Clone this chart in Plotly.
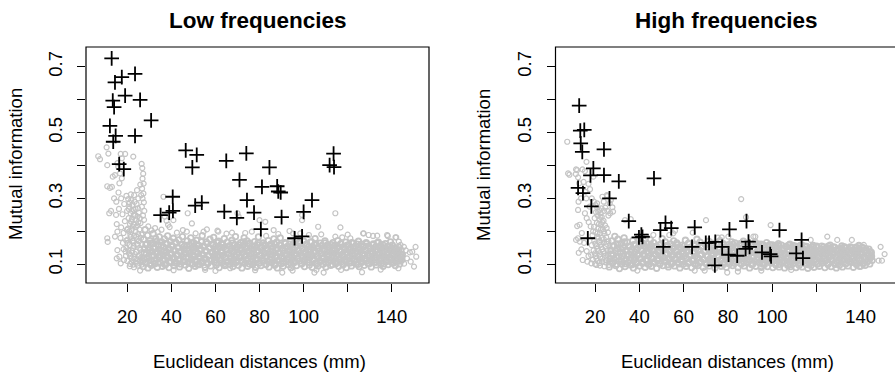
import plotly.graph_objects as go

# ---------------------------------------------------------------------------
# Data: Euclidean distance (mm) vs mutual information, two frequency bands
# ---------------------------------------------------------------------------

# Highlighted electrode pairs (black crosses)
low_cross = [(12.9, .725), (17.5, .668), (14.4, .652), (23.5, .678), (19.0, .612),
             (25.8, .599), (13.4, .597), (14.0, .577), (30.8, .537), (12.1, .520),
             (14.7, .490), (13.6, .472), (23.5, .490), (16.3, .404), (18.4, .389),
             (35.1, .249), (39.0, .257), (40.7, .262), (40.6, .305), (46.5, .446),
             (51.5, .432), (49.5, .394), (50.8, .278), (53.8, .287), (64.9, .414),
             (64.0, .260), (74.0, .437), (70.9, .356), (74.3, .295), (69.7, .241),
             (77.5, .257), (84.5, .394), (81.1, .335), (80.6, .207), (88.0, .337),
             (88.5, .321), (89.6, .318), (90.0, .243), (95.9, .179), (99.3, .185),
             (100.0, .259), (103.8, .295), (111.8, .401), (113.6, .436), (113.8, .395)]

high_cross = [(12.8, .582), (13.3, .506), (15.1, .508), (13.5, .467), (14.2, .441),
              (24.0, .449), (19.2, .391), (17.9, .370), (24.0, .371), (30.7, .352),
              (46.6, .361), (12.3, .332), (14.5, .316), (26.5, .300), (18.3, .276),
              (16.7, .179), (35.2, .231), (39.8, .182), (40.9, .190), (41.4, .183),
              (49.5, .204), (51.8, .226), (54.4, .210), (50.8, .153), (65.0, .212),
              (63.8, .153), (70.0, .165), (71.5, .165), (74.3, .168), (77.4, .153),
              (74.1, .097), (80.7, .206), (80.3, .129), (84.2, .126), (88.4, .231),
              (89.3, .169), (89.8, .153), (88.0, .147), (95.4, .136), (99.1, .131),
              (99.5, .124), (103.3, .204), (110.9, .133), (113.3, .174), (113.9, .119)]

# All other pairs (grey circles): scattered points, flat x/y sequence
low_sparse_xy = [
    6.8, .428, 7.6, .419, 10.6, .455, 11.4, .436, 10.9, .401, 12.1, .332, 10.9, .337,
    11.8, .255, 10.9, .179, 11.1, .168, 14.9, .250, 15.2, .222, 14.4, .184, 15.5, .199,
    15.5, .143, 15.2, .118, 16.4, .123, 18.5, .113, 17.0, .103, 18.3, .146, 19.2, .139,
    13.4, .366, 14.4, .371, 17.0, .435, 17.5, .422, 19.0, .435, 15.5, .407, 15.9, .396,
    16.7, .376, 17.5, .361, 16.4, .346, 22.7, .427, 13.0, .335, 12.6, .262, 14.0, .300,
    15.0, .290, 16.0, .318, 17.2, .300, 18.6, .283, 16.2, .268, 17.8, .252, 18.9, .231,
    17.2, .212, 18.3, .195, 16.9, .180, 18.0, .165, 19.5, .172, 19.8, .205, 19.9, .262,
    20.4, .298, 21.0, .287, 21.8, .295, 20.9, .275, 22.3, .280, 23.3, .290, 24.2, .283,
    22.9, .265, 24.8, .270, 21.5, .255, 23.6, .250, 25.2, .257, 20.6, .240, 22.1, .238,
    24.0, .236, 25.7, .240, 21.2, .222, 23.0, .220, 24.6, .218, 26.0, .225, 20.3, .208,
    22.0, .205, 23.8, .200, 25.5, .206, 21.4, .190, 23.1, .186, 24.9, .192, 20.1, .175,
    22.5, .172, 24.3, .176, 26.2, .180, 21.0, .158, 22.9, .156, 24.7, .160, 26.5, .162,
    20.5, .142, 22.2, .140, 24.0, .138, 25.9, .144, 21.3, .125, 23.2, .122, 25.1, .126,
    20.0, .110, 22.0, .107, 23.9, .105, 25.7, .111, 21.1, .094, 23.0, .091, 24.8, .096,
    26.6, .099, 25.8, .081, 26.5, .405, 26.8, .392, 27.2, .375, 26.9, .360, 27.4, .345,
    26.7, .330, 27.3, .315, 26.9, .300, 27.5, .288, 26.6, .275, 27.7, .262, 27.1, .248,
    27.6, .235, 26.3, .310, 25.9, .342, 24.4, .325, 23.1, .310, 21.6, .312, 19.6, .308,
    25.0, .300, 32.6, .210, 36.4, .305, 37.0, .245, 37.8, .232, 38.5, .220, 39.2, .213,
    40.9, .234, 45.2, .204, 47.0, .199, 47.4, .255, 49.3, .224, 56.1, .206, 60.9, .202,
    70.0, .255, 70.5, .245, 80.0, .234, 82.6, .229, 83.0, .186, 86.4, .204, 93.6, .201,
    95.2, .194, 99.3, .234, 99.3, .250, 116.7, .212, 114.4, .255, 127.0, .194, 138.2, .186,
    141.7, .182, 54.6, .199, 61.3, .199, 67.5, .196, 76.5, .199, 98.5, .194, 102.4, .189,
    106.6, .214, 114.4, .184, 117.5, .182, 121.2, .179, 127.3, .194, 129.5, .189,
    133.4, .187, 137.9, .189, 142.0, .182, 143.2, .169, 144.0, .159, 145.5, .153,
    55.3, .083, 66.7, .088, 90.3, .075, 104.9, .075, 109.1, .075, 126.5, .076, 105.8, .083,
    148.2, .136, 149.3, .138, 150.8, .153, 151.1, .123, 148.6, .108, 150.1, .093,
    146.4, .142, 146.9, .118, 145.6, .102, 29.5, .215, 31.0, .203, 33.8, .198, 35.5, .205,
    42.5, .196, 51.0, .194, 65.0, .193, 73.5, .195, 88.5, .192, 108.0, .191, 120.0, .190,
    131.5, .186, 41.0, .082, 60.0, .080, 78.0, .082, 95.0, .081, 117.0, .083, 135.0, .084,
    143.0, .088, 19.6, .150, 20.8, .133, 21.9, .118, 22.6, .149, 23.5, .131, 24.5, .115,
    25.4, .150, 26.3, .133, 20.2, .165, 21.6, .183, 22.8, .166, 24.1, .184, 25.3, .170,
    26.4, .190, 20.9, .200, 22.4, .215, 23.9, .213, 25.0, .228, 21.7, .230, 22.9, .248,
    24.6, .245, 20.7, .268, 22.1, .262, 23.7, .268, 21.3, .101, 22.7, .099, 24.4, .102,
    26.0, .118, 19.4, .126,
]

low_band_xy = [
    27.2, .093, 27.5, .118, 27.9, .147, 27.4, .176, 28.1, .205, 28.3, .104, 28.6, .131, 28.9, .162,
    29.2, .188, 29.4, .089, 29.8, .124, 30.1, .151, 30.3, .172, 30.6, .112, 30.9, .097, 31.2, .139,
    31.5, .164, 31.7, .193, 32.0, .126, 32.4, .102, 32.6, .148, 32.9, .178, 33.3, .115, 33.6, .091,
    33.8, .136, 34.1, .159, 34.5, .183, 34.7, .121, 35.0, .105, 35.3, .143, 35.6, .168, 35.9, .094,
    36.2, .129, 36.5, .152, 36.8, .177, 37.1, .113, 37.4, .099, 37.7, .138, 38.0, .161, 38.3, .186,
    38.6, .122, 38.9, .090, 39.3, .145, 39.6, .169, 39.9, .108, 40.2, .131, 40.5, .156, 40.9, .179,
    41.2, .096, 41.5, .118, 41.8, .141, 42.1, .165, 42.4, .103, 42.8, .127, 43.1, .150, 43.4, .174,
    43.7, .092, 44.0, .115, 44.4, .137, 44.7, .160, 45.0, .184, 45.3, .109, 45.6, .132, 45.9, .155,
    46.3, .098, 46.6, .121, 46.9, .146, 47.2, .171, 47.6, .106, 47.9, .088, 48.2, .134, 48.5, .158,
    48.8, .180, 49.2, .116, 49.5, .101, 49.8, .142, 50.1, .166, 50.5, .124, 50.8, .094, 51.1, .149,
    51.4, .173, 51.7, .110, 52.1, .133, 52.4, .157, 52.7, .099, 53.0, .120, 53.4, .145, 53.7, .168,
    54.0, .187, 54.3, .107, 54.6, .128, 55.0, .153, 55.3, .091, 55.6, .117, 55.9, .140, 56.3, .163,
    56.6, .103, 56.9, .126, 57.2, .150, 57.5, .176, 57.9, .095, 58.2, .113, 58.5, .137, 58.8, .161,
    59.2, .182, 59.5, .108, 59.8, .130, 60.1, .155, 60.4, .098, 60.8, .122, 61.1, .146, 61.4, .170,
    61.7, .090, 62.1, .114, 62.4, .139, 62.7, .162, 63.0, .105, 63.3, .127, 63.7, .151, 64.0, .178,
    64.3, .096, 64.6, .119, 65.0, .143, 65.3, .167, 65.6, .109, 65.9, .132, 66.2, .156, 66.6, .100,
    66.9, .124, 67.2, .148, 67.5, .173, 67.9, .093, 68.2, .115, 68.5, .138, 68.8, .160, 69.1, .184,
    69.5, .106, 69.8, .129, 70.1, .153, 70.4, .097, 70.8, .120, 71.1, .144, 71.4, .166, 71.7, .111,
    72.0, .089, 72.4, .135, 72.7, .158, 73.0, .180, 73.3, .103, 73.7, .126, 74.0, .149, 74.3, .171,
    74.6, .094, 74.9, .117, 75.3, .141, 75.6, .164, 75.9, .108, 76.2, .131, 76.6, .155, 76.9, .099,
    77.2, .122, 77.5, .146, 77.8, .169, 78.2, .091, 78.5, .113, 78.8, .136, 79.1, .159, 79.5, .183,
    79.8, .104, 80.1, .127, 80.4, .151, 80.7, .096, 81.1, .119, 81.4, .142, 81.7, .165, 82.0, .110,
    82.4, .133, 82.7, .157, 83.0, .100, 83.3, .123, 83.6, .147, 84.0, .172, 84.3, .092, 84.6, .115,
    84.9, .139, 85.2, .162, 85.6, .106, 85.9, .128, 86.2, .152, 86.5, .177, 86.9, .097, 87.2, .120,
    87.5, .144, 87.8, .167, 88.1, .089, 88.5, .111, 88.8, .134, 89.1, .158, 89.4, .180, 89.8, .102,
    90.1, .125, 90.4, .149, 90.7, .094, 91.0, .117, 91.4, .140, 91.7, .163, 92.0, .108, 92.3, .131,
    92.7, .154, 93.0, .099, 93.3, .121, 93.6, .145, 93.9, .169, 94.3, .090, 94.6, .114, 94.9, .137,
    95.2, .161, 95.6, .105, 95.9, .127, 96.2, .151, 96.5, .174, 96.8, .096, 97.2, .119, 97.5, .142,
    97.8, .165, 98.1, .110, 98.5, .133, 98.8, .156, 99.1, .101, 99.4, .123, 99.7, .147, 100.1, .170,
    100.4, .093, 100.7, .116, 101.0, .139, 101.4, .162, 101.7, .107, 102.0, .129, 102.3, .153, 102.6, .098,
    103.0, .121, 103.3, .144, 103.6, .168, 103.9, .091, 104.3, .112, 104.6, .135, 104.9, .159, 105.2, .178,
    105.5, .104, 105.9, .126, 106.2, .150, 106.5, .095, 106.8, .118, 107.2, .141, 107.5, .164, 107.8, .109,
    108.1, .132, 108.4, .155, 108.8, .100, 109.1, .122, 109.4, .146, 109.7, .171, 110.1, .092, 110.4, .115,
    110.7, .138, 111.0, .160, 111.3, .106, 111.7, .128, 112.0, .152, 112.3, .097, 112.6, .120, 113.0, .143,
    113.3, .166, 113.6, .111, 113.9, .134, 114.2, .157, 114.6, .102, 114.9, .124, 115.2, .148, 115.5, .172,
    115.9, .094, 116.2, .116, 116.5, .139, 116.8, .162, 117.1, .108, 117.5, .130, 117.8, .153, 118.1, .099,
    118.4, .121, 118.8, .145, 119.1, .167, 119.4, .090, 119.7, .113, 120.0, .136, 120.4, .159, 120.7, .104,
    121.0, .126, 121.3, .150, 121.7, .095, 122.0, .118, 122.3, .141, 122.6, .164, 122.9, .110, 123.3, .132,
    123.6, .155, 123.9, .101, 124.2, .123, 124.6, .147, 124.9, .170, 125.2, .093, 125.5, .115, 125.8, .138,
    126.2, .161, 126.5, .106, 126.8, .128, 127.1, .152, 127.5, .097, 127.8, .119, 128.1, .143, 128.4, .166,
    128.7, .111, 129.1, .133, 129.4, .156, 129.7, .102, 130.0, .124, 130.3, .148, 130.7, .092, 131.0, .116,
    131.3, .139, 131.6, .162, 132.0, .107, 132.3, .129, 132.6, .153, 132.9, .098, 133.2, .120, 133.6, .144,
    133.9, .167, 134.2, .112, 134.5, .134, 134.9, .157, 135.2, .103, 135.5, .125, 135.8, .149, 136.1, .094,
    136.5, .117, 136.8, .140, 137.1, .163, 137.4, .108, 137.8, .130, 138.1, .154, 138.4, .099, 138.7, .121,
    139.0, .145, 139.4, .168, 139.7, .113, 140.0, .135, 140.3, .158, 140.7, .104, 141.0, .126, 141.3, .150,
    141.6, .096, 141.9, .118, 142.3, .141, 142.6, .110, 142.9, .131, 143.2, .152, 143.6, .101, 143.9, .122,
    144.2, .143, 144.5, .113, 144.8, .130,
    # core of the band, second pass
    27.0, .110, 27.7, .135, 28.4, .160, 28.8, .118, 29.5, .143, 30.2, .102, 30.5, .164, 31.1, .127,
    31.8, .150, 32.2, .111, 32.8, .136, 33.4, .170, 33.9, .104, 34.3, .146, 34.9, .128, 35.4, .157,
    36.0, .113, 36.4, .139, 36.9, .100, 37.5, .163, 37.9, .125, 38.5, .149, 39.1, .108, 39.4, .132,
    40.0, .158, 40.4, .119, 41.0, .143, 41.4, .105, 41.9, .167, 42.3, .129, 42.9, .152, 43.3, .114,
    43.9, .138, 44.2, .101, 44.8, .161, 45.2, .123, 45.8, .146, 46.1, .109, 46.7, .134, 47.1, .157,
    47.7, .118, 48.0, .142, 48.6, .103, 49.0, .165, 49.6, .127, 50.0, .151, 50.6, .112, 51.0, .137,
    51.5, .160, 51.9, .099, 52.5, .122, 52.9, .145, 53.5, .107, 53.8, .131, 54.4, .155, 54.9, .116,
    55.4, .141, 55.8, .168, 56.4, .103, 56.8, .126, 57.4, .149, 57.8, .111, 58.3, .135, 58.9, .158,
    59.3, .120, 59.9, .143, 60.3, .104, 60.9, .166, 61.3, .128, 61.8, .152, 62.3, .113, 62.8, .137,
    63.4, .160, 63.8, .100, 64.4, .122, 64.8, .146, 65.4, .108, 65.8, .131, 66.4, .155, 66.8, .117,
    67.4, .141, 67.7, .164, 68.3, .103, 68.7, .126, 69.3, .150, 69.7, .112, 70.3, .135, 70.6, .159,
    71.2, .121, 71.6, .145, 72.2, .106, 72.6, .168, 73.1, .130, 73.5, .153, 74.1, .114, 74.5, .139,
    75.1, .162, 75.5, .101, 76.0, .124, 76.4, .147, 77.0, .109, 77.4, .133, 78.0, .156, 78.4, .118,
    78.9, .142, 79.3, .165, 79.9, .104, 80.3, .128, 80.9, .151, 81.3, .113, 81.8, .137, 82.2, .160,
    82.8, .099, 83.2, .122, 83.8, .145, 84.2, .107, 84.7, .131, 85.1, .155, 85.7, .116, 86.1, .140,
    86.7, .163, 87.1, .102, 87.6, .126, 88.0, .149, 88.6, .111, 89.0, .135, 89.6, .158, 90.0, .119,
    90.5, .143, 90.9, .105, 91.5, .166, 91.9, .129, 92.5, .152, 92.9, .114, 93.4, .138, 93.8, .161,
    94.4, .100, 94.8, .123, 95.4, .147, 95.8, .109, 96.3, .132, 96.7, .156, 97.3, .117, 97.7, .141,
    98.3, .164, 98.7, .103, 99.2, .127, 99.6, .150, 100.2, .112, 100.6, .136, 101.2, .159, 101.6, .120,
    102.1, .144, 102.5, .106, 103.1, .167, 103.5, .130, 104.1, .153, 104.4, .115, 105.0, .139, 105.4, .162,
    106.0, .101, 106.4, .124, 106.9, .148, 107.3, .110, 107.9, .133, 108.3, .157, 108.9, .118, 109.3, .142,
    109.8, .165, 110.2, .104, 110.8, .128, 111.2, .151, 111.8, .113, 112.2, .137, 112.7, .160, 113.1, .099,
    113.7, .121, 114.1, .145, 114.7, .107, 115.1, .131, 115.6, .154, 116.0, .116, 116.6, .140, 117.0, .163,
    117.6, .102, 118.0, .126, 118.5, .149, 118.9, .111, 119.5, .135, 119.9, .158, 120.5, .119, 120.9, .143,
    121.4, .105, 121.8, .166, 122.4, .129, 122.8, .152, 123.4, .114, 123.8, .138, 124.3, .161, 124.7, .100,
    125.3, .123, 125.7, .147, 126.3, .109, 126.7, .132, 127.2, .156, 127.6, .117, 128.2, .141, 128.6, .163,
    129.2, .103, 129.6, .127, 130.1, .150, 130.5, .112, 131.1, .136, 131.5, .159, 132.1, .120, 132.5, .144,
    133.0, .106, 133.4, .165, 134.0, .130, 134.4, .153, 135.0, .115, 135.4, .139, 135.9, .160, 136.3, .101,
    136.9, .124, 137.3, .148, 137.9, .110, 138.3, .133, 138.8, .155, 139.2, .118, 139.8, .142, 140.2, .104,
    140.8, .128, 141.2, .148, 141.7, .113, 142.1, .136, 142.7, .120, 143.1, .142, 143.7, .110, 144.1, .130,
    144.6, .121,
]

high_sparse_xy = [
    7.4, .472, 7.8, .376, 8.4, .372, 11.4, .388, 11.9, .386, 11.3, .374, 12.3, .364,
    12.8, .346, 16.1, .411, 14.3, .388, 15.4, .383, 12.3, .265, 11.9, .216, 11.4, .174,
    12.3, .179, 13.1, .169, 14.4, .113, 16.5, .108, 18.3, .103, 20.6, .098, 19.2, .366,
    17.0, .344, 17.7, .328, 15.4, .255, 16.2, .240, 17.1, .228, 18.0, .215, 19.1, .200,
    23.3, .305, 25.4, .307, 26.6, .285, 27.8, .273, 28.1, .260, 25.3, .310, 27.1, .295,
    26.8, .255, 33.5, .234, 36.1, .237, 39.6, .184, 43.3, .184, 53.5, .189, 55.3, .194,
    64.1, .196, 70.1, .234, 86.0, .298, 99.3, .219, 124.9, .184, 149.0, .153, 150.8, .131,
    148.1, .111, 149.6, .111, 144.7, .128, 141.4, .159, 142.5, .149, 136.0, .174,
    129.4, .174, 117.4, .174, 92.4, .184, 85.3, .164, 75.5, .181, 39.1, .081, 65.0, .081,
    69.5, .081, 79.7, .075, 84.5, .078, 95.1, .081, 108.6, .083, 140.2, .093, 56.1, .202,
    88.2, .243, 77.2, .182, 80.2, .184, 91.5, .184, 46.3, .189,
    19.5, .290, 20.2, .280, 21.0, .272, 21.8, .265, 20.4, .258, 22.5, .255, 21.2, .248,
    23.0, .244, 19.8, .240, 22.0, .236, 23.8, .232, 20.8, .226, 22.8, .222, 24.5, .218,
    19.5, .214, 21.5, .210, 23.5, .206, 25.2, .210, 20.2, .198, 22.2, .195, 24.2, .193,
    25.8, .197, 18.8, .188, 21.0, .184, 23.0, .180, 25.0, .182, 19.6, .172, 21.8, .168,
    23.9, .166, 26.0, .170, 18.5, .158, 20.7, .155, 22.7, .152, 24.8, .154, 19.3, .142,
    21.5, .140, 23.6, .138, 25.6, .143, 18.2, .128, 20.2, .125, 22.3, .122, 24.4, .126,
    19.0, .114, 21.2, .110, 23.2, .108, 25.3, .112, 20.0, .101, 22.2, .096, 24.2, .094,
    26.2, .098, 23.9, .290, 24.6, .272, 25.5, .262, 26.0, .248, 24.0, .262, 18.5, .300,
    17.5, .275, 16.0, .300, 15.6, .320, 14.8, .350, 13.6, .300, 12.5, .290, 13.0, .220,
    14.0, .195, 15.0, .165, 13.8, .145, 12.6, .135, 16.2, .140, 17.0, .125,
    19.9, .133, 21.0, .147, 22.1, .130, 23.3, .146, 24.5, .134, 25.7, .128, 20.6, .117,
    21.9, .104, 23.3, .118, 24.7, .106, 20.1, .163, 21.4, .178, 22.6, .160, 23.9, .176,
    25.2, .162, 21.1, .194, 22.6, .205, 24.0, .200, 21.7, .222, 23.2, .228, 22.4, .244,
    21.4, .260, 22.9, .270, 20.9, .285,
]

high_band_xy = [
    26.4, .092, 26.8, .117, 27.1, .142, 27.5, .171, 27.9, .104, 28.2, .129, 28.6, .156, 28.9, .185,
    29.3, .096, 29.6, .121, 30.0, .148, 30.3, .176, 30.7, .110, 31.0, .087, 31.4, .135, 31.7, .162,
    32.1, .101, 32.4, .124, 32.8, .151, 33.1, .180, 33.5, .093, 33.8, .115, 34.2, .140, 34.5, .167,
    34.9, .106, 35.2, .130, 35.6, .155, 35.9, .098, 36.3, .120, 36.6, .145, 37.0, .172, 37.3, .089,
    37.7, .112, 38.0, .137, 38.4, .160, 38.7, .103, 39.1, .127, 39.4, .150, 39.8, .177, 40.1, .095,
    40.5, .118, 40.8, .143, 41.2, .165, 41.5, .108, 41.9, .132, 42.2, .157, 42.6, .091, 42.9, .114,
    43.3, .139, 43.6, .163, 44.0, .100, 44.3, .125, 44.7, .148, 45.0, .174, 45.4, .094, 45.7, .117,
    46.1, .141, 46.4, .166, 46.8, .107, 47.1, .131, 47.5, .154, 47.8, .088, 48.2, .111, 48.5, .136,
    48.9, .159, 49.2, .102, 49.6, .126, 49.9, .149, 50.3, .178, 50.6, .096, 51.0, .119, 51.3, .144,
    51.7, .168, 52.0, .109, 52.4, .133, 52.7, .156, 53.1, .092, 53.4, .115, 53.8, .138, 54.1, .162,
    54.5, .101, 54.8, .123, 55.2, .147, 55.5, .171, 55.9, .095, 56.2, .118, 56.6, .142, 56.9, .165,
    57.3, .106, 57.6, .130, 58.0, .153, 58.3, .089, 58.7, .112, 59.0, .135, 59.4, .158, 59.7, .100,
    60.1, .124, 60.4, .147, 60.8, .173, 61.1, .094, 61.5, .117, 61.8, .140, 62.2, .164, 62.5, .107,
    62.9, .129, 63.2, .152, 63.6, .090, 63.9, .113, 64.3, .137, 64.6, .160, 65.0, .101, 65.3, .125,
    65.7, .148, 66.0, .176, 66.4, .096, 66.7, .119, 67.1, .143, 67.4, .167, 67.8, .108, 68.1, .131,
    68.5, .155, 68.8, .091, 69.2, .114, 69.5, .138, 69.9, .161, 70.2, .102, 70.6, .126, 70.9, .149,
    71.3, .170, 71.6, .095, 72.0, .118, 72.3, .141, 72.7, .164, 73.0, .109, 73.4, .132, 73.7, .156,
    74.1, .089, 74.4, .112, 74.8, .136, 75.1, .159, 75.5, .100, 75.8, .123, 76.2, .146, 76.5, .172,
    76.9, .094, 77.2, .117, 77.6, .140, 77.9, .163, 78.3, .106, 78.6, .130, 79.0, .153, 79.3, .091,
    79.7, .113, 80.0, .137, 80.4, .160, 80.7, .102, 81.1, .125, 81.4, .148, 81.8, .168, 82.1, .096,
    82.5, .119, 82.8, .142, 83.2, .165, 83.5, .108, 83.9, .131, 84.2, .154, 84.6, .090, 84.9, .114,
    85.3, .138, 85.6, .161, 86.0, .101, 86.3, .124, 86.7, .147, 87.0, .170, 87.4, .095, 87.7, .118,
    88.1, .141, 88.4, .163, 88.8, .107, 89.1, .130, 89.5, .152, 89.8, .089, 90.2, .112, 90.5, .135,
    90.9, .158, 91.2, .100, 91.6, .122, 91.9, .145, 92.3, .167, 92.6, .094, 93.0, .116, 93.3, .139,
    93.7, .161, 94.0, .106, 94.4, .128, 94.7, .151, 95.1, .091, 95.4, .113, 95.8, .136, 96.1, .158,
    96.5, .099, 96.8, .121, 97.2, .144, 97.5, .166, 97.9, .093, 98.2, .115, 98.6, .138, 98.9, .160,
    99.3, .105, 99.6, .127, 100.0, .149, 100.3, .090, 100.7, .111, 101.0, .133, 101.4, .156, 101.7, .098,
    102.1, .120, 102.4, .142, 102.8, .163, 103.1, .092, 103.5, .114, 103.8, .136, 104.2, .158, 104.5, .104,
    104.9, .125, 105.2, .147, 105.6, .089, 105.9, .110, 106.3, .131, 106.6, .153, 107.0, .097, 107.3, .119,
    107.7, .140, 108.0, .161, 108.4, .093, 108.7, .114, 109.1, .135, 109.4, .157, 109.8, .103, 110.1, .124,
    110.5, .145, 110.8, .090, 111.2, .109, 111.5, .130, 111.9, .151, 112.2, .097, 112.6, .118, 112.9, .139,
    113.3, .159, 113.6, .092, 114.0, .113, 114.3, .134, 114.7, .155, 115.0, .102, 115.4, .123, 115.7, .143,
    116.1, .088, 116.4, .108, 116.8, .128, 117.1, .149, 117.5, .096, 117.8, .117, 118.2, .137, 118.5, .157,
    118.9, .091, 119.2, .112, 119.6, .132, 119.9, .152, 120.3, .101, 120.6, .121, 121.0, .141, 121.3, .094,
    121.7, .115, 122.0, .135, 122.4, .155, 122.7, .105, 123.1, .125, 123.4, .145, 123.8, .090, 124.1, .110,
    124.5, .130, 124.8, .150, 125.2, .099, 125.5, .119, 125.9, .139, 126.2, .158, 126.6, .093, 126.9, .113,
    127.3, .133, 127.6, .152, 128.0, .103, 128.3, .123, 128.7, .143, 129.0, .089, 129.4, .108, 129.7, .128,
    130.1, .147, 130.4, .097, 130.8, .117, 131.1, .137, 131.5, .156, 131.8, .092, 132.2, .112, 132.5, .131,
    132.9, .151, 133.2, .102, 133.6, .121, 133.9, .141, 134.3, .095, 134.6, .115, 135.0, .134, 135.3, .153,
    135.7, .106, 136.0, .125, 136.4, .144, 136.7, .091, 137.1, .110, 137.4, .130, 137.8, .149, 138.1, .099,
    138.5, .119, 138.8, .138, 139.2, .157, 139.5, .094, 139.9, .114, 140.2, .133, 140.6, .152, 140.9, .104,
    141.3, .123, 141.6, .142, 142.0, .097, 142.3, .116, 142.7, .135, 143.0, .108, 143.4, .127, 143.7, .146,
    144.1, .101, 144.4, .120, 144.8, .136, 145.2, .112,
    # core of the band, second pass
    26.6, .108, 27.3, .131, 28.0, .155, 28.4, .116, 29.1, .140, 29.8, .100, 30.1, .162, 30.8, .123,
    31.5, .147, 31.9, .109, 32.6, .133, 33.3, .168, 33.6, .102, 34.0, .144, 34.7, .126, 35.4, .153,
    35.7, .112, 36.1, .137, 36.8, .099, 37.5, .160, 37.9, .121, 38.6, .146, 39.0, .106, 39.3, .130,
    40.0, .156, 40.4, .116, 41.1, .141, 41.4, .103, 41.8, .163, 42.4, .126, 43.1, .150, 43.5, .111,
    44.2, .135, 44.5, .100, 45.2, .158, 45.6, .120, 46.3, .144, 46.6, .107, 47.3, .132, 47.7, .154,
    48.4, .117, 48.7, .139, 49.4, .102, 49.8, .161, 50.5, .124, 50.8, .148, 51.5, .110, 51.9, .134,
    52.6, .157, 52.9, .099, 53.6, .119, 54.0, .143, 54.7, .105, 55.0, .128, 55.7, .152, 56.1, .114,
    56.8, .138, 57.1, .160, 57.8, .101, 58.2, .123, 58.9, .147, 59.2, .109, 59.9, .133, 60.3, .155,
    61.0, .118, 61.3, .141, 62.0, .103, 62.4, .162, 63.1, .126, 63.4, .149, 64.1, .111, 64.5, .135,
    65.2, .157, 65.5, .099, 66.2, .120, 66.6, .144, 67.3, .106, 67.6, .129, 68.3, .153, 68.7, .115,
    69.4, .139, 69.7, .160, 70.4, .102, 70.8, .124, 71.5, .148, 71.8, .110, 72.5, .133, 72.9, .156,
    73.6, .119, 73.9, .142, 74.6, .104, 75.0, .163, 75.7, .127, 76.0, .150, 76.7, .112, 77.1, .136,
    77.8, .158, 78.1, .100, 78.8, .121, 79.2, .145, 79.9, .107, 80.2, .130, 80.9, .154, 81.3, .116,
    82.0, .140, 82.3, .161, 83.0, .103, 83.4, .125, 84.1, .149, 84.4, .111, 85.1, .134, 85.5, .157,
    86.2, .120, 86.5, .143, 87.2, .105, 87.6, .160, 88.3, .128, 88.6, .151, 89.3, .113, 89.7, .137,
    90.4, .158, 90.7, .099, 91.4, .122, 91.8, .146, 92.5, .108, 92.8, .131, 93.5, .155, 93.9, .117,
    94.6, .140, 94.9, .161, 95.6, .102, 96.0, .126, 96.7, .149, 97.0, .112, 97.7, .135, 98.1, .156,
    98.8, .119, 99.1, .143, 99.8, .104, 100.2, .159, 100.9, .128, 101.2, .151, 101.9, .114, 102.3, .137,
    103.0, .157, 103.3, .100, 104.0, .122, 104.4, .146, 105.1, .108, 105.4, .131, 106.1, .154, 106.5, .117,
    107.2, .140, 107.5, .158, 108.2, .102, 108.6, .125, 109.3, .148, 109.6, .111, 110.3, .134, 110.7, .155,
    111.4, .119, 111.7, .142, 112.4, .104, 112.8, .157, 113.5, .127, 113.8, .149, 114.5, .113, 114.9, .136,
    115.6, .154, 115.9, .099, 116.6, .121, 117.0, .144, 117.7, .107, 118.0, .130, 118.7, .152, 119.1, .116,
    119.8, .139, 120.1, .155, 120.8, .102, 121.2, .124, 121.9, .147, 122.2, .110, 122.9, .133, 123.3, .153,
    124.0, .118, 124.3, .141, 125.0, .104, 125.4, .155, 126.1, .126, 126.4, .148, 127.1, .112, 127.5, .135,
    128.2, .152, 128.5, .100, 129.2, .121, 129.6, .144, 130.3, .108, 130.6, .130, 131.3, .150, 131.7, .116,
    132.4, .139, 132.7, .153, 133.4, .103, 133.8, .124, 134.5, .146, 134.8, .110, 135.5, .133, 135.9, .151,
    136.6, .118, 136.9, .140, 137.6, .105, 138.0, .152, 138.7, .127, 139.0, .147, 139.7, .113, 140.1, .135,
    140.8, .150, 141.1, .102, 141.8, .122, 142.2, .143, 142.9, .109, 143.2, .130, 143.9, .117, 144.3, .138,
    144.9, .124,
]

x_ticks = [20, 40, 60, 80, 100, 120, 140]
x_tick_text = ["20", "40", "60", "80", "100", "", "140"]
y_ticks = [0.1, 0.2, 0.3, 0.4, 0.5, 0.6, 0.7]
y_tick_text = ["0.1", "", "0.3", "", "0.5", "", "0.7"]

titles = ["Low frequencies", "High frequencies"]
x_title = "Euclidean distances (mm)"
y_title = "Mutual information"

# ---------------------------------------------------------------------------
# Layout helpers (pixel geometry of the 895 x 373 canvas)
# ---------------------------------------------------------------------------
W, H = 895, 373
FONT = "Liberation Sans, Arial, Helvetica, sans-serif"
GREY = "#c4c4c4"


def pairs(flat):
    return list(flat[0::2]), list(flat[1::2])


def unzip(pts):
    return [p[0] for p in pts], [p[1] for p in pts]


def fx(p):
    return p / W


def fy(p):
    return 1 - p / H


panels = [
    dict(suffix="", sparse=low_sparse_xy, band=low_band_xy, cross=low_cross,
         dom=[fx(86), fx(429)], xr=[1.25, 156.9], centre=258),
    dict(suffix="2", sparse=high_sparse_xy, band=high_band_xy, cross=high_cross,
         dom=[fx(555.5), 1.0], xr=[2.1, 155.5], centre=726),
]
y_dom = [fy(283), fy(47)]
y_range = [0.0432, 0.7597]

fig = go.Figure()
layout = dict(
    width=W, height=H, margin=dict(l=0, r=0, t=0, b=0),
    paper_bgcolor="white", plot_bgcolor="white", showlegend=False,
    font=dict(family=FONT, color="black", size=18.5),
    shapes=[], annotations=[],
)

for i, pn in enumerate(panels):
    s = pn["suffix"]
    xa, ya = "x" + s, "y" + s
    bx, by = pairs(pn["band"])
    fig.add_trace(go.Scatter(
        x=bx, y=by, mode="markers", xaxis=xa, yaxis=ya, hoverinfo="skip",
        marker=dict(symbol="circle-open", size=5.5, color=GREY, line=dict(width=1.8, color=GREY)),
    ))
    gx, gy = pairs(pn["sparse"])
    fig.add_trace(go.Scatter(
        x=gx, y=gy, mode="markers", xaxis=xa, yaxis=ya, hoverinfo="skip",
        marker=dict(symbol="circle-open", size=5, color=GREY, line=dict(width=1.2, color=GREY)),
    ))
    cx, cy = unzip(pn["cross"])
    fig.add_trace(go.Scatter(
        x=cx, y=cy, mode="markers", xaxis=xa, yaxis=ya,
        marker=dict(symbol="cross-thin", size=10.5, color="black", line=dict(width=1.8, color="black")),
    ))

    layout["xaxis" + s] = dict(
        domain=pn["dom"], range=pn["xr"], anchor=ya,
        tickmode="array", tickvals=x_ticks, ticktext=x_tick_text,
        ticks="outside", ticklen=8, tickwidth=1, tickcolor="black",
        ticklabelstandoff=9, tickfont=dict(size=18.5),
        showgrid=False, zeroline=False, showline=False,
    )
    layout["yaxis" + s] = dict(
        domain=y_dom, range=y_range, anchor=xa,
        tickmode="array", tickvals=y_ticks, ticktext=y_tick_text,
        ticks="outside", ticklen=8, tickwidth=1, tickcolor="black",
        tickangle=-90, ticklabelstandoff=8, tickfont=dict(size=18.5),
        showgrid=False, zeroline=False, showline=False,
    )
    # Plot frame
    layout["shapes"].append(dict(
        type="rect", xref=xa + " domain", yref=ya + " domain",
        x0=0, x1=1 if i == 0 else 1.02, y0=0, y1=1,
        line=dict(color="black", width=1.2), fillcolor="rgba(0,0,0,0)", layer="above",
    ))
    # Panel title and axis titles
    layout["annotations"] += [
        dict(text="<b>" + titles[i] + "</b>", x=fx(pn["centre"]), y=fy(20),
             xref="paper", yref="paper", xanchor="center", yanchor="middle",
             showarrow=False, font=dict(size=22.5)),
        dict(text=x_title, x=fx(pn["centre"] + 1), y=fy(361),
             xref="paper", yref="paper", xanchor="center", yanchor="middle",
             showarrow=False, font=dict(size=18.5)),
        dict(text=y_title, x=fx(15.5 if i == 0 else 483.5), y=fy(164.5),
             xref="paper", yref="paper", xanchor="center", yanchor="middle",
             textangle=-90, showarrow=False, font=dict(size=18.5)),
    ]

fig.update_layout(**layout)
fig.write_html("out.html")
